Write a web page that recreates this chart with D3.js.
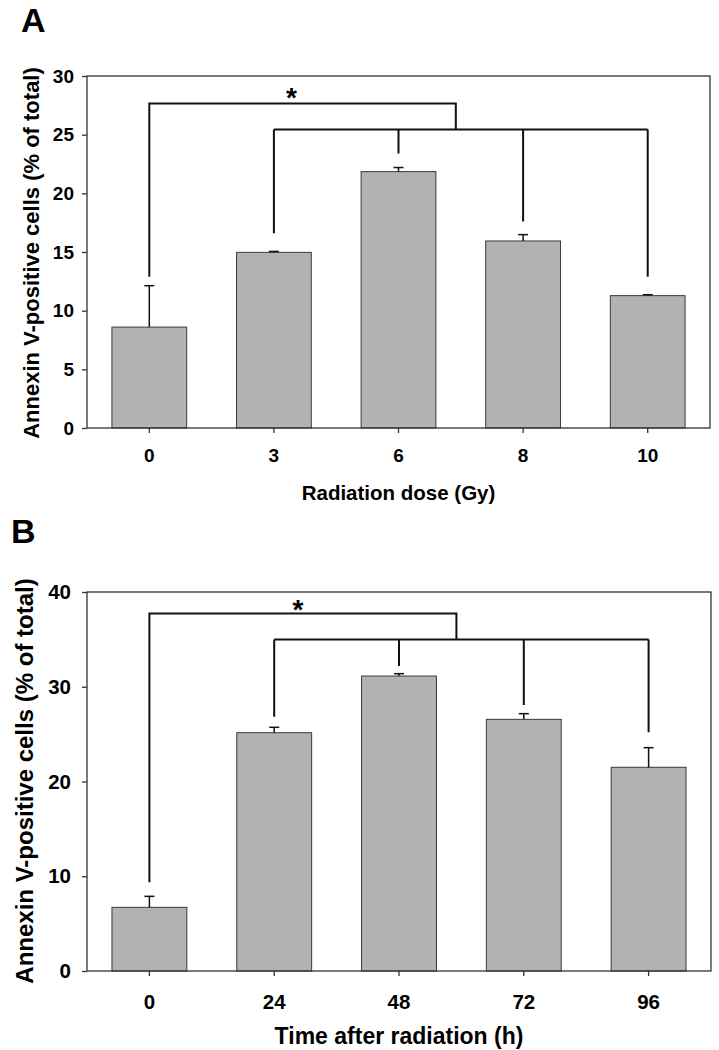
<!DOCTYPE html>
<html>
<head>
<meta charset="utf-8">
<script src="https://cdn.jsdelivr.net/npm/d3@7"></script>
<style>
  html, body { margin: 0; padding: 0; background: #fff; }
  svg { display: block; }
  text { font-family: "Liberation Sans", Arial, sans-serif; font-weight: bold; fill: #000; }
</style>
</head>
<body>
<svg id="chart" width="719" height="1050"></svg>
<script>
// ---------- Data ----------
const catsA = ["0", "3", "6", "8", "10"];
const valsA = [8.6, 14.97, 21.85, 15.94, 11.28];
const errA = [3.53, 0.08, 0.35, 0.54, 0.08];
const yTicksA = [0, 5, 10, 15, 20, 25, 30];
const bracketLevelsA = [27.65, 25.43];      // outer, inner
const dropEndsA = [12.9, 16.6, 23.4, 17.6, 12.9];
const junctionA = 2.46;                      // category index where brackets join
const starA = 1.14;

const catsB = ["0", "24", "48", "72", "96"];
const valsB = [6.72, 25.15, 31.13, 26.56, 21.5];
const errB = [1.16, 0.57, 0.25, 0.6, 2.07];
const yTicksB = [0, 10, 20, 30, 40];
const bracketLevelsB = [37.74, 35.0];
const dropEndsB = [9.36, 26.84, 32.2, 28.07, 25.19];
const junctionB = 2.46;
const starB = 1.19;

// ---------- Drawing ----------
const svg = d3.select("#chart");

function panel(cfg) {
  const g = svg.append("g");
  const x = d3.scaleBand().domain(cfg.cats).range([cfg.left, cfg.right])
    .paddingInner(0.4).paddingOuter(0.2);
  const xi = d3.scaleLinear().domain([-0.5, cfg.cats.length - 0.5]).range([cfg.left, cfg.right]);
  const y = d3.scaleLinear().domain(cfg.yDomain).range([cfg.bottom, cfg.top]);
  const cx = i => x(cfg.cats[i]) + x.bandwidth() / 2;

  // bars
  g.selectAll("rect.bar").data(cfg.vals).join("rect")
    .attr("class", "bar")
    .attr("x", (d, i) => x(cfg.cats[i]))
    .attr("width", x.bandwidth())
    .attr("y", d => y(d))
    .attr("height", d => y(0) - y(d))
    .attr("fill", "#b2b2b2")
    .attr("stroke", "#3a3a3a")
    .attr("stroke-width", 1);

  // error bars (upper only)
  cfg.vals.forEach((v, i) => {
    const top = y(v + cfg.err[i]);
    g.append("line").attr("x1", cx(i)).attr("x2", cx(i))
      .attr("y1", y(v)).attr("y2", top)
      .attr("stroke", "#111").attr("stroke-width", 1.5);
    g.append("line").attr("x1", cx(i) - 5).attr("x2", cx(i) + 5)
      .attr("y1", top).attr("y2", top)
      .attr("stroke", "#111").attr("stroke-width", 1.5);
  });

  // frame
  g.append("rect").attr("x", cfg.left).attr("y", cfg.top)
    .attr("width", cfg.right - cfg.left).attr("height", cfg.bottom - cfg.top)
    .attr("fill", "none").attr("stroke", "#333").attr("stroke-width", 1.3);

  // axes
  const yAxis = d3.axisLeft(y).tickValues(cfg.yTicks).tickSize(5).tickPadding(cfg.yPad);
  const ya = g.append("g").attr("transform", `translate(${cfg.left},0)`).call(yAxis);
  ya.select(".domain").remove();
  ya.selectAll("line").attr("stroke", "#333").attr("stroke-width", 1.3);
  ya.selectAll("text").style("font-size", cfg.tickFont + "px").attr("fill", "#000")
    .style("font-family", '"Liberation Sans", Arial, sans-serif').style("font-weight", "bold");

  const xAxis = d3.axisBottom(x).tickSize(5).tickPadding(cfg.xPad);
  const xa = g.append("g").attr("transform", `translate(0,${cfg.bottom})`).call(xAxis);
  xa.select(".domain").remove();
  xa.selectAll("line").attr("stroke", "#333").attr("stroke-width", 1.3);
  xa.selectAll("text").style("font-size", cfg.tickFont + "px").attr("fill", "#000")
    .style("font-family", '"Liberation Sans", Arial, sans-serif').style("font-weight", "bold");

  // significance brackets
  const outerY = y(cfg.levels[0]);
  const innerY = y(cfg.levels[1]);
  const jx = xi(cfg.junction);
  const n = cfg.cats.length;
  const path = d3.path();
  path.moveTo(cx(0), y(cfg.drops[0]));
  path.lineTo(cx(0), outerY);
  path.lineTo(jx, outerY);
  path.lineTo(jx, innerY);
  path.moveTo(cx(1), innerY);
  path.lineTo(cx(n - 1), innerY);
  for (let i = 1; i < n; i++) {
    path.moveTo(cx(i), innerY);
    path.lineTo(cx(i), y(cfg.drops[i]));
  }
  g.append("path").attr("d", path.toString())
    .attr("fill", "none").attr("stroke", "#111").attr("stroke-width", 2);

  g.append("text").attr("x", xi(cfg.star)).attr("y", outerY + cfg.starDy)
    .attr("text-anchor", "middle").style("font-size", "28px").text("*");

  // axis titles
  g.append("text").attr("transform", `rotate(-90)`)
    .attr("x", -cfg.yLabelCy).attr("y", cfg.yLabelX)
    .attr("text-anchor", "middle").style("font-size", cfg.yLabelFont + "px")
    .text("Annexin V-positive cells (% of total)");
  g.append("text").attr("x", (cfg.left + cfg.right) / 2).attr("y", cfg.xLabelY)
    .attr("text-anchor", "middle").style("font-size", cfg.xLabelFont + "px")
    .text(cfg.xLabel);

  // panel letter
  g.append("text").attr("x", cfg.letterX).attr("y", cfg.letterY)
    .style("font-size", "34px").text(cfg.letter);
}

panel({
  cats: catsA, vals: valsA, err: errA, yTicks: yTicksA, yDomain: [0, 30],
  levels: bracketLevelsA, drops: dropEndsA, junction: junctionA, star: starA,
  left: 87, right: 710, top: 76, bottom: 428,
  tickFont: 19, yPad: 8, xPad: 16,
  yLabelFont: 22, yLabelX: 39, yLabelCy: 253,
  xLabel: "Radiation dose (Gy)", xLabelFont: 20.5, xLabelY: 500,
  starDy: 3, letter: "A", letterX: 21, letterY: 32
});

panel({
  cats: catsB, vals: valsB, err: errB, yTicks: yTicksB, yDomain: [0, 40],
  levels: bracketLevelsB, drops: dropEndsB, junction: junctionB, star: starB,
  left: 87, right: 711, top: 592, bottom: 971,
  tickFont: 20.5, yPad: 11, xPad: 18,
  yLabelFont: 24, yLabelX: 33, yLabelCy: 781,
  xLabel: "Time after radiation (h)", xLabelFont: 23, xLabelY: 1044,
  starDy: 6, letter: "B", letterX: 11, letterY: 543
});
</script>
</body>
</html>
